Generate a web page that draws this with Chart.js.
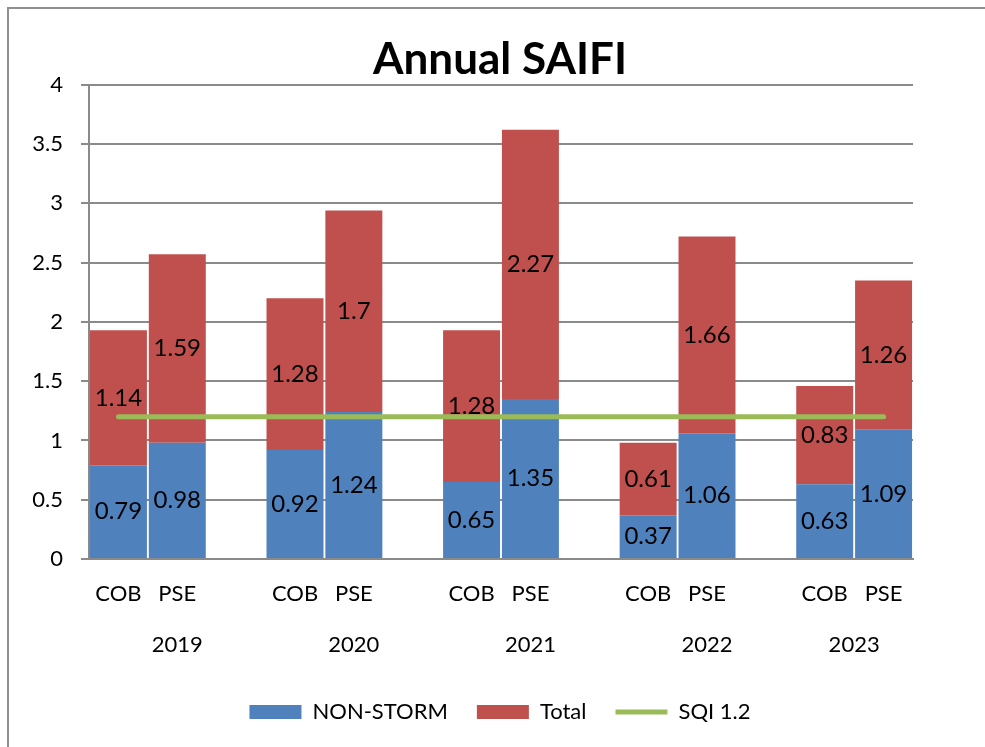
<!DOCTYPE html>
<html><head><meta charset="utf-8">
<script src="https://cdn.jsdelivr.net/npm/chart.js"></script>
<style>
html,body{margin:0;padding:0;background:#fff;}
#wrap{position:relative;width:985px;height:747px;overflow:hidden;}
#frame{position:absolute;left:7px;top:7px;width:1200px;height:1000px;border:2px solid #909090;box-sizing:border-box;pointer-events:none;}
canvas{position:absolute;left:0;top:0;}
</style></head><body>
<div id="wrap"><canvas id="c" width="985" height="747"></canvas><div id="frame"></div></div>
<script>
const categories = ['COB','PSE','','COB','PSE','','COB','PSE','','COB','PSE','','COB','PSE'];
const categoryYear = ['2019','2019','2019','2020','2020','2020','2021','2021','2021','2022','2022','2022','2023','2023'];
const years = ['2019','2020','2021','2022','2023'];
const nonStorm = [0.79,0.98,null,0.92,1.24,null,0.65,1.35,null,0.37,1.06,null,0.63,1.09];
const total    = [1.14,1.59,null,1.28,1.70,null,1.28,2.27,null,0.61,1.66,null,0.83,1.26];
const sqi      = [1.2,1.2,1.2,1.2,1.2,1.2,1.2,1.2,1.2,1.2,1.2,1.2,1.2,1.2];
const yTickLabels = ['0','0.5','1','1.5','2','2.5','3','3.5','4'];

const FONT = 'Lato';
const GRID = '#8a8a8a';

const valueLabels = {
  id: 'valueLabels',
  afterDatasetsDraw(chart) {
    const ctx = chart.ctx;
    ctx.save();
    ctx.font = '24px ' + FONT;
    ctx.fillStyle = '#000';
    ctx.textAlign = 'center';
    ctx.textBaseline = 'middle';
    [0, 1].forEach(di => {
      const meta = chart.getDatasetMeta(di);
      const data = chart.data.datasets[di].data;
      meta.data.forEach((el, i) => {
        if (data[i] === null || data[i] === undefined) return;
        ctx.fillText(String(data[i]), el.x, (el.y + el.base) / 2);
      });
    });
    ctx.restore();
  }
};

const yearLabels = {
  id: 'yearLabels',
  afterDraw(chart) {
    const xs = chart.scales.x;
    const ctx = chart.ctx;
    ctx.save();
    ctx.font = '22px ' + FONT;
    ctx.fillStyle = '#000';
    ctx.textAlign = 'center';
    ctx.textBaseline = 'middle';
    years.forEach(y => {
      const idx = [];
      categoryYear.forEach((cy, i) => { if (cy === y) idx.push(i); });
      const x = idx.reduce((s, i) => s + xs.getPixelForValue(i), 0) / idx.length;
      ctx.fillText(y, x, xs.top + 86);
    });
    ctx.restore();
  }
};

function build() {
  new Chart(document.getElementById('c'), {
    data: {
      labels: categories,
      datasets: [
        { type: 'bar', label: 'NON-STORM', data: nonStorm, backgroundColor: '#4F81BD', stack: 's', order: 1, pointStyle: 'rect', barPercentage: 0.968, categoryPercentage: 1 },
        { type: 'bar', label: 'Total', data: total, backgroundColor: '#C0504D', stack: 's', order: 1, pointStyle: 'rect', barPercentage: 0.968, categoryPercentage: 1 },
        { type: 'line', label: 'SQI 1.2', data: sqi, borderColor: '#9BBB59', backgroundColor: '#9BBB59', borderWidth: 5, borderCapStyle: 'round', pointRadius: 0, pointStyle: 'line', fill: false, stack: 'sqi', order: 0 }
      ]
    },
    options: {
      responsive: false,
      animation: false,
      layout: { padding: { left: 15, right: 0, top: 0, bottom: 14 } },
      scales: {
        x: {
          stacked: true,
          grid: { display: false, drawTicks: false },
          border: { color: GRID, width: 2 },
          ticks: { color: '#000', font: { family: FONT, size: 22 }, padding: 22, autoSkip: false, maxRotation: 0 },
          afterFit: s => { s.height = 113; }
        },
        y: {
          stacked: true,
          min: 0, max: 4,
          ticks: { stepSize: 0.5, color: '#000', font: { family: FONT, size: 22 }, padding: 18,
                   callback: (v, i) => yTickLabels[i] },
          grid: { color: GRID, lineWidth: 2, tickLength: 8 },
          border: { color: GRID, width: 2 },
          afterFit: s => { s.width = 74; }
        },
        y2: {
          position: 'right',
          display: true,
          grid: { display: false, drawTicks: false },
          border: { display: false },
          ticks: { display: false },
          afterFit: s => { s.width = 72; }
        }
      },
      plugins: {
        title: { display: true, text: 'Annual SAIFI', color: '#000', font: { family: FONT, size: 44, weight: 'bold' }, padding: { top: 33, bottom: -1 } },
        legend: {
          position: 'bottom',
          labels: { usePointStyle: true, pointStyleWidth: 52, boxHeight: 14, padding: 29, color: '#000',
                    font: { family: FONT, size: 22 }, sort: (a, b) => a.datasetIndex - b.datasetIndex }
        },
        tooltip: { enabled: false }
      }
    },
    plugins: [valueLabels, yearLabels]
  });
}
Promise.all([document.fonts.load('22px Lato'), document.fonts.load('bold 44px Lato')]).then(build, build);
</script>
</body></html>
